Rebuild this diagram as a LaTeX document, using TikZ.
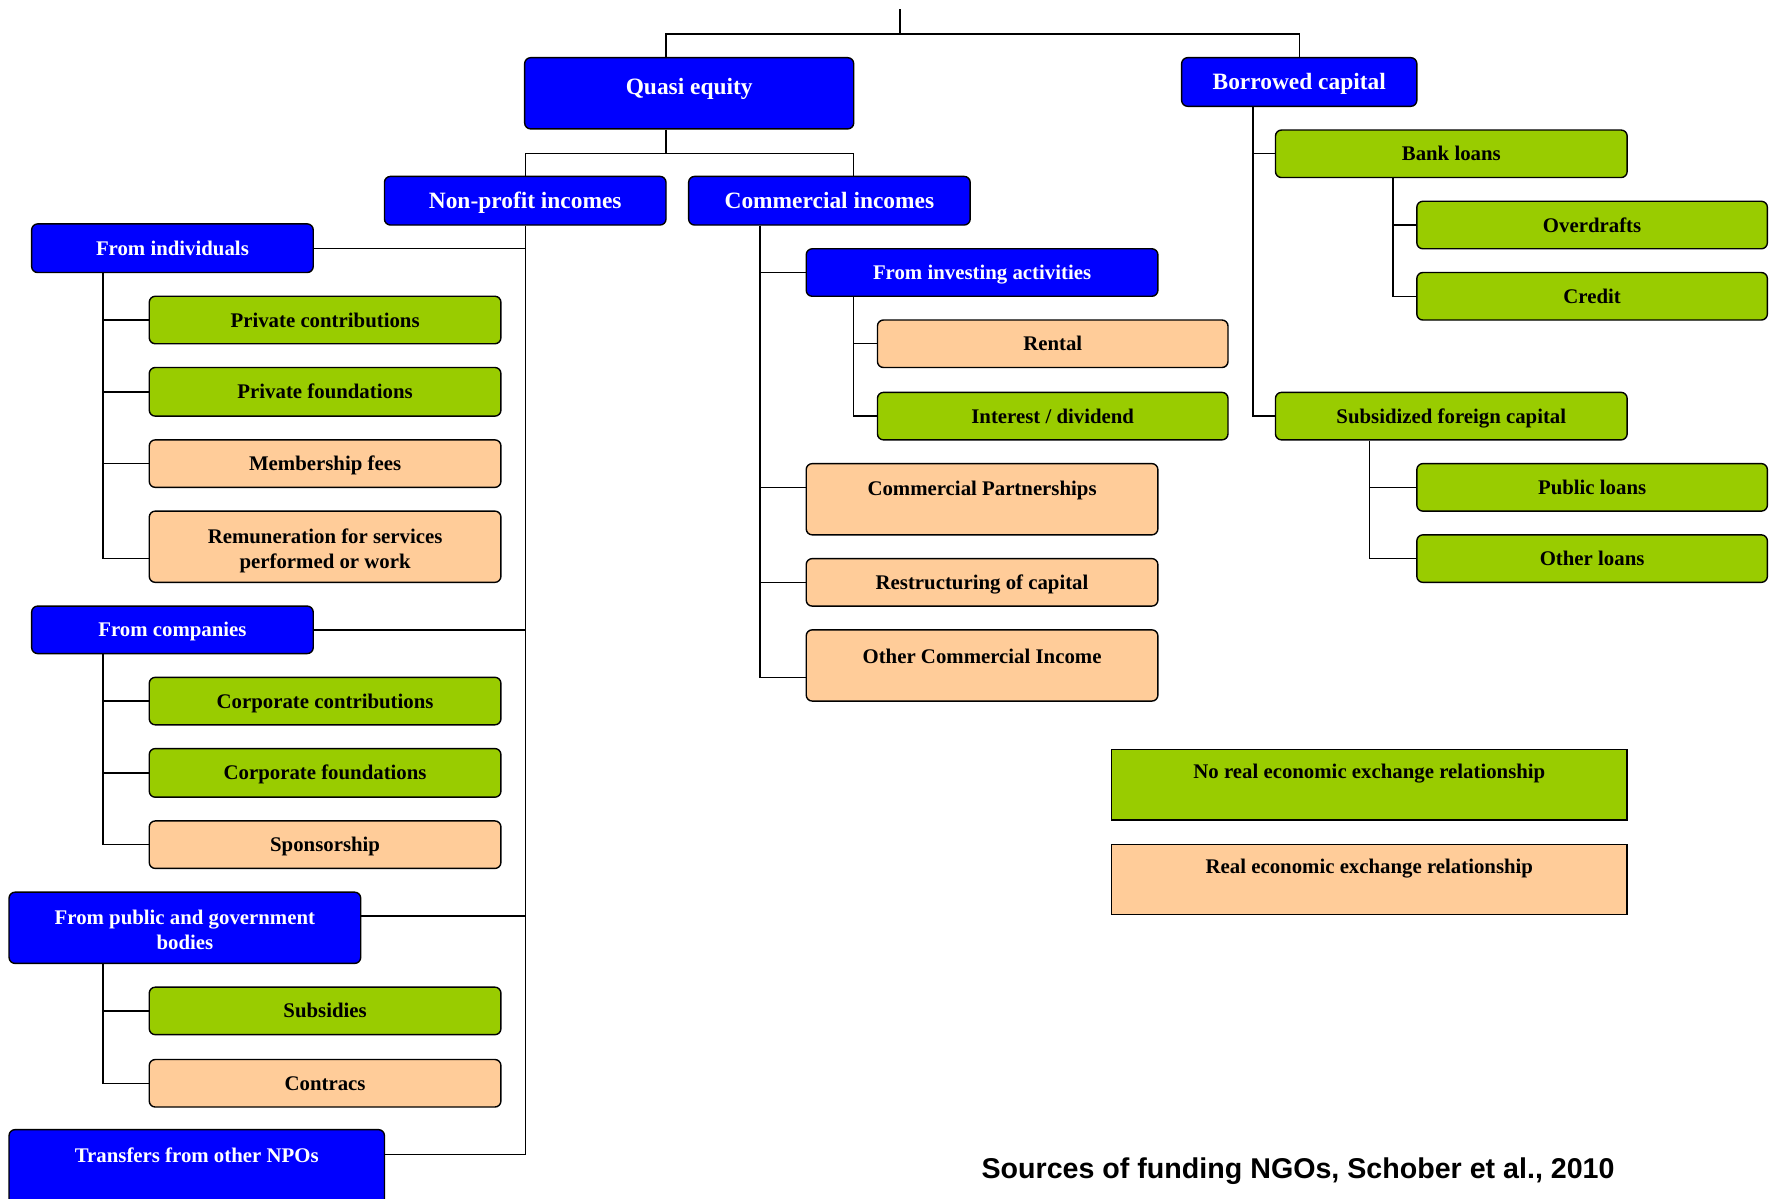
\documentclass[tikz,border=0pt]{standalone}
\usepackage{fontspec}
\setmainfont{Liberation Serif}
\newfontfamily\capfont{Liberation Sans}
\definecolor{nonrealgreen}{HTML}{99CC00}
\definecolor{realorange}{HTML}{FFCC99}
\tikzset{
  srcbox/.style={draw=black,line width=0.7pt,rounded corners=3pt,inner sep=1pt,align=center,
    text height=9pt,text depth=2pt,font=\bfseries\fontsize{10.4}{12.5}\selectfont},
  head/.style={srcbox,fill=blue,text=white,text height=10.5pt,text depth=2.5pt,
    font=\bfseries\fontsize{11.7}{14}\selectfont},
  sub/.style={srcbox,fill=blue,text=white},
  nonreal/.style={srcbox,fill=nonrealgreen},
  real/.style={srcbox,fill=realorange},
  twoline/.style={text height=24pt,text depth=2pt},
  tall/.style={text depth=12.5pt},
  legend/.style={sharp corners,text depth=15.4pt},
  conn/.style={line width=0.7pt}
}

\begin{document}
\begin{tikzpicture}[x=0.565pt,y=-0.565pt]
\newcommand\src[7]{
\node[#2,minimum width={(#5-#3)*0.565pt},minimum height={(#6-#4)*0.565pt}] (#1) at ({(#3+#5)/2},{(#4+#6)/2}) {#7};
}
\clip (0,0) rectangle (1568,1060);
% top level
\src{quasi}{head,text depth=9.5pt}{464}{51}{755}{114}{Quasi equity}
\src{borrowed}{head}{1045}{51}{1253}{94}{Borrowed capital}
\src{nonprofit}{head}{340}{156}{589}{199}{Non-profit incomes}
\src{commercial}{head}{609}{156}{858}{199}{Commercial incomes}
% non-profit incomes
\src{indiv}{sub}{28}{198}{277}{241}{From individuals}
\src{privcon}{nonreal}{132}{262}{443}{304}{Private contributions}
\src{privfound}{nonreal}{132}{325}{443}{368}{Private foundations}
\src{member}{real}{132}{389}{443}{431}{Membership fees}
\src{remun}{real,twoline}{132}{452}{443}{515}{Remuneration for services\\performed or work}
\src{compan}{sub}{28}{536}{277}{578}{From companies}
\src{corpcon}{nonreal}{132}{599}{443}{641}{Corporate contributions}
\src{corpfound}{nonreal}{132}{662}{443}{705}{Corporate foundations}
\src{sponsor}{real}{132}{726}{443}{768}{Sponsorship}
\src{public}{sub,twoline}{8}{789}{319}{852}{From public and government\\bodies}
\src{subsid}{nonreal}{132}{873}{443}{915}{Subsidies}
\src{contr}{real}{132}{937}{443}{979}{Contracs}
\src{transf}{sub,text depth=13.8pt}{8}{999}{340}{1066}{Transfers from other NPOs}
% commercial incomes
\src{invest}{sub}{713}{220}{1024}{262}{From investing activities}
\src{rental}{real}{776}{283}{1086}{325}{Rental}
\src{interest}{nonreal}{776}{347}{1086}{389}{Interest / dividend}
\src{partner}{real,tall}{713}{410}{1024}{473}{Commercial Partnerships}
\src{restruct}{real}{713}{494}{1024}{536}{Restructuring of capital}
\src{othercom}{real,text depth=11.4pt}{713}{557}{1024}{620}{Other Commercial Income}
% borrowed capital
\src{bank}{nonreal}{1128}{115}{1439}{157}{Bank loans}
\src{overdr}{nonreal}{1253}{178}{1563}{220}{Overdrafts}
\src{credit}{nonreal}{1253}{241}{1563}{283}{Credit}
\src{subfor}{nonreal}{1128}{347}{1439}{389}{Subsidized foreign capital}
\src{publoan}{nonreal}{1253}{410}{1563}{452}{Public loans}
\src{othloan}{nonreal}{1253}{473}{1563}{515}{Other loans}
% legend
\src{legnon}{nonreal,legend}{983}{663}{1439}{725}{No real economic exchange relationship}
\src{legreal}{real,legend}{983}{747}{1439}{809}{Real economic exchange relationship}
\node[font=\capfont\bfseries\fontsize{14.3}{16}\selectfont] (caption) at (1148,1036) {Sources of funding NGOs, Schober et al., 2010};
% connectors
\coordinate (root) at (796,8);
\draw[conn] (root) -- ++(0,22) coordinate (top);
\draw[conn] (top) -| (quasi.north -| 589,0);
\draw[conn] (top) -| (borrowed.north);
\draw[conn] (quasi.south -| 589,0) -- ++(0,21) coordinate (qs);
\draw[conn] (qs) -| (nonprofit.north);
\draw[conn] (qs) -| (commercial.north -| 755,0);
\draw[conn] (nonprofit.south) |- (transf.east |- 0,1021);
\foreach \n/\y in {indiv/220,compan/557,public/810}
  \draw[conn] (\n.east |- 0,\y) -- (nonprofit.south |- 0,\y);
\foreach \n in {privcon,privfound,member}
  \draw[conn] (indiv.south -| 91,0) |- (\n.west);
\draw[conn] (indiv.south -| 91,0) |- (remun.west |- 0,494);
\foreach \n in {corpcon,corpfound,sponsor}
  \draw[conn] (compan.south -| 91,0) |- (\n.west);
\foreach \n in {subsid,contr}
  \draw[conn] (public.south -| 91,0) |- (\n.west);
\foreach \n/\y in {invest/241,partner/431,restruct/515,othercom/599}
  \draw[conn] (commercial.south -| 672,0) |- (\n.west |- 0,\y);
\foreach \n in {rental,interest}
  \draw[conn] (invest.south -| 755,0) |- (\n.west);
\foreach \n in {bank,subfor}
  \draw[conn] (borrowed.south -| 1108,0) |- (\n.west);
\foreach \n in {overdr,credit}
  \draw[conn] (bank.south -| 1232,0) |- (\n.west);
\foreach \n in {publoan,othloan}
  \draw[conn] (subfor.south -| 1211,0) |- (\n.west);
\end{tikzpicture}
\end{document}
